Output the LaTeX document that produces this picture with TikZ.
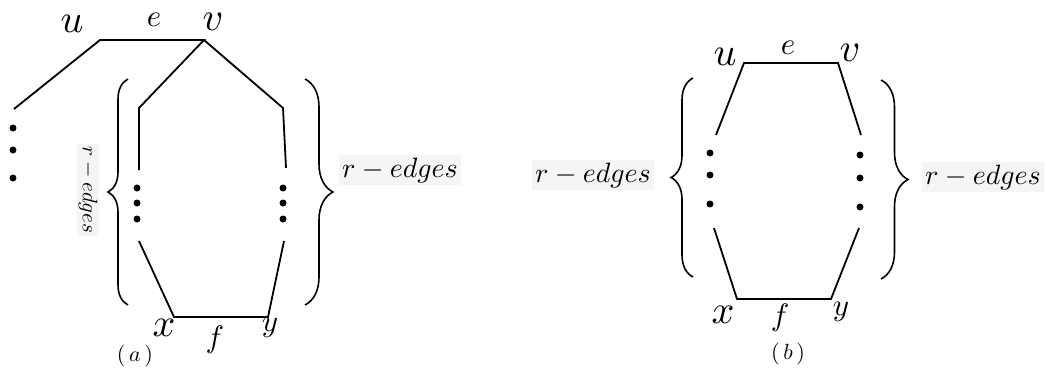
\documentclass[tikz,border=0pt]{standalone}
\usetikzlibrary{decorations.pathreplacing}

\tikzset{
  edgeline/.style={line width=1.8pt},
  vdot/.style={circle,fill=black,inner sep=0pt,minimum size=7pt},
  vname/.style={scale=4,inner sep=0pt,execute at begin node=$,execute at end node=$},
  ename/.style={scale=3.1,inner sep=0pt,execute at begin node=$,execute at end node=$},
  bracket/.style={line width=1.6pt,decorate,decoration={brace,amplitude=#1}},
  countlabel/.style={scale=2.8,fill=black!4,inner sep=1pt},
  caption/.style={scale=2.2,inner sep=0pt}
}

\begin{document}
\begin{tikzpicture}[x=1pt,y=-1pt]
  \useasboundingbox (0,0) rectangle (1046,369);

  % (a)
  \coordinate (au) at (100,40);
  \coordinate (av) at (204,40);
  \coordinate (ax) at (174,317);
  \coordinate (ay) at (268,317);
  \coordinate (aout) at (14,109);
  \coordinate (ap1) at (139,108);
  \coordinate (ap2) at (139,170);
  \coordinate (ap3) at (139,241);
  \coordinate (aq1) at (283,108);
  \coordinate (aq2) at (286,168);
  \coordinate (aq3) at (284,241);
  \draw[edgeline] (aout) -- (au) -- (av) -- (ap1) -- (ap2);
  \draw[edgeline] (av) -- (aq1) -- (aq2);
  \draw[edgeline] (ap3) -- (ax) -- (ay) -- (aq3);
  \foreach \y in {128,150,178} \node[vdot] (ao\y) at (13,\y) {};
  \foreach \y in {188,203,219} {
    \node[vdot] (ap\y) at (137,\y) {};
    \node[vdot] (aq\y) at (283,\y) {};
  }
  \node[vname] (aul) at (72,24) {u};
  \node[ename] (ael) at (154,20) {e};
  \node[vname] (avl) at (213,22) {v};
  \node[vname] (axl) at (164,328) {x};
  \node[ename] (afl) at (215,340) {f};
  \node[ename] (ayl) at (270,328) {y};
  \draw[bracket=20pt] (128,305) -- (128,79);
  \draw[bracket=28pt] (305,79) -- (305,305);
  \node[countlabel,rotate=-90,scale=0.75] (aleft) at (88,190) {$r-edges$};
  \node[countlabel] (aright) at (400,170) {$r-edges$};
  \node[caption] (acap) at (135,356) {$(\,a\,)$};

  % (b)
  \coordinate (bu) at (744,63);
  \coordinate (bv) at (838,63);
  \coordinate (bx) at (737,299);
  \coordinate (by) at (831,299);
  \coordinate (bp1) at (716,135);
  \coordinate (bp2) at (714,228);
  \coordinate (bq1) at (861,135);
  \coordinate (bq2) at (859,228);
  \draw[edgeline] (bp1) -- (bu) -- (bv) -- (bq1);
  \draw[edgeline] (bp2) -- (bx) -- (by) -- (bq2);
  \foreach \y/\z in {153/155,175/178,204/207} {
    \node[vdot] (bp\y) at (710,\y) {};
    \node[vdot] (bq\z) at (860,\z) {};
  }
  \node[vname] (bul) at (725,57) {u};
  \node[ename] (bel) at (788,48) {e};
  \node[vname] (bvl) at (850,53) {v};
  \node[vname] (bxl) at (723,315) {x};
  \node[ename] (bfl) at (780,318) {f};
  \node[ename] (byl) at (841,312) {y};
  \draw[bracket=22pt] (693,277) -- (693,78);
  \draw[bracket=27pt] (881,80) -- (881,279);
  \node[countlabel] (bleft) at (593,175) {$r-edges$};
  \node[countlabel] (bright) at (983,177) {$r-edges$};
  \node[caption] (bcap) at (788,354) {$(\,b\,)$};
\end{tikzpicture}
\end{document}
